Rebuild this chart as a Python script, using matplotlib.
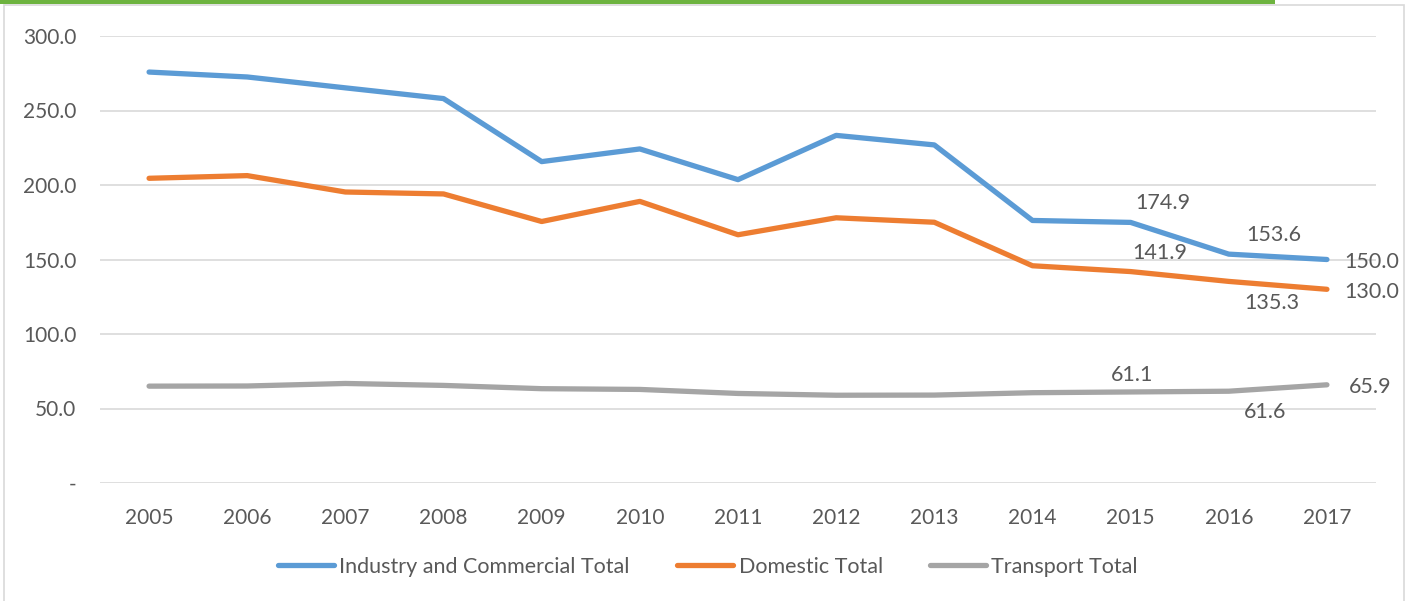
import matplotlib
matplotlib.use("Agg")
import matplotlib.pyplot as plt
from matplotlib.patches import Rectangle

years = [2005, 2006, 2007, 2008, 2009, 2010, 2011, 2012, 2013, 2014, 2015, 2016, 2017]
industry = [275.8, 272.5, 265.2, 258.0, 215.7, 224.2, 203.6, 233.3, 226.9, 176.2, 174.9, 153.6, 150.0]
domestic = [204.5, 206.3, 195.3, 194.0, 175.5, 189.0, 166.6, 178.0, 175.0, 145.8, 141.9, 135.3, 130.0]
transport = [65.0, 65.1, 66.8, 65.5, 63.3, 62.8, 60.1, 58.9, 59.0, 60.6, 61.1, 61.6, 65.9]
series_names = ["Industry and Commercial Total", "Domestic Total", "Transport Total"]
colors = ["#5B9BD5", "#ED7D31", "#A5A5A5"]
y_ticks = [0, 50, 100, 150, 200, 250, 300]
y_tick_labels = ["-", "50.0", "100.0", "150.0", "200.0", "250.0", "300.0"]

FONT = ["Lato", "DejaVu Sans"]
TXT = "#595959"
plt.rcParams['font.family'] = FONT

fig = plt.figure(figsize=(14.13, 6.01), dpi=100)
# top green bar and frame
fig.patches.append(Rectangle((0, 1 - 4/601), 1275/1413, 4/601, transform=fig.transFigure,
                             facecolor="#6DB33F", edgecolor="none"))
fig.patches.append(Rectangle((4/1413, -0.01), 1400/1413, 1 - 5/601 + 0.01, transform=fig.transFigure,
                             facecolor="none", edgecolor="#D9D9D9", linewidth=1.2))

ax = fig.add_axes([100/1413, 1 - 483/601, 1276/1413, 447/601])
ax.set_xlim(2004.5, 2017.5)
ax.set_ylim(0, 300)
for s in ax.spines.values():
    s.set_visible(False)
ax.set_yticks(y_ticks)
ax.set_yticklabels(y_tick_labels)
ax.set_xticks(years)
ax.set_xticklabels([str(y) for y in years])
ax.tick_params(axis='both', length=0, labelsize=15, labelcolor=TXT)
ax.tick_params(axis='y', pad=17)
ax.tick_params(axis='x', pad=18)
ax.yaxis.grid(True, color="#D9D9D9", linewidth=1.2)
ax.set_axisbelow(True)

handles = []
for vals, c, n in zip([industry, domestic, transport], colors, series_names):
    ln, = ax.plot(years, vals, color=c, linewidth=3.8, solid_capstyle='round',
                  solid_joinstyle='round', label=n)
    handles.append(ln)

def lab(x, y, s, dx=0, dy=0, ha='center', va='center'):
    ax.annotate(s, (x, y), xytext=(dx, dy), textcoords='offset pixels',
                ha=ha, va=va, fontsize=15.5, color=TXT)

# data labels
lab(2015, industry[10], f"{industry[10]:.1f}", dx=32, dy=19)
lab(2016, industry[11], f"{industry[11]:.1f}", dx=45, dy=19)
lab(2017, industry[12], f"{industry[12]:.1f}", dx=17, dy=-3, ha='left')
lab(2015, domestic[10], f"{domestic[10]:.1f}", dx=29, dy=19)
lab(2016, domestic[11], f"{domestic[11]:.1f}", dx=43, dy=-22)
lab(2017, domestic[12], f"{domestic[12]:.1f}", dx=17, dy=-3, ha='left')
lab(2015, transport[10], f"{transport[10]:.1f}", dx=1, dy=17)
lab(2016, transport[11], f"{transport[11]:.1f}", dx=36, dy=-21)
lab(2017, transport[12], f"{transport[12]:.1f}", dx=22, dy=-2, ha='left')

leg = fig.legend(handles=handles, loc='center', bbox_to_anchor=(708/1413, 1 - 567/601),
                 ncol=3, frameon=False, fontsize=15.5, handlelength=2.6, handletextpad=0.25,
                 columnspacing=2.2, labelcolor=TXT)

fig.savefig("out.png", dpi=100)
